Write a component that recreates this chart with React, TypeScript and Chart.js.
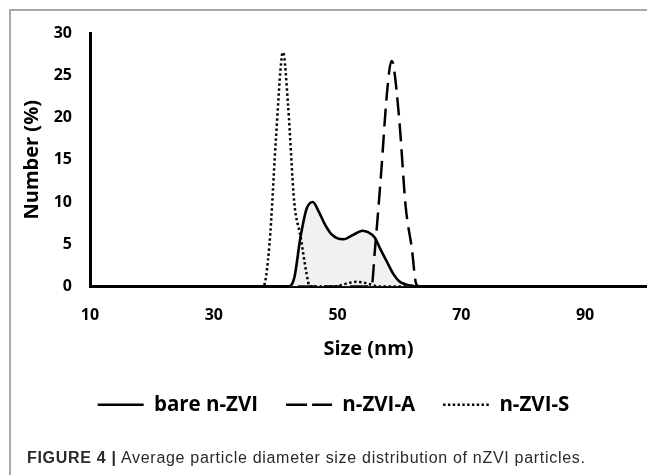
import React, { useEffect, useRef } from "react";
import { Chart, registerables } from "chart.js";

Chart.register(...registerables);

// ---- data ----
const xTickValues = [10, 30, 50, 70, 90];

const bareSizes = [10, 42, 43, 44, 45, 46, 47, 48, 49, 50, 51, 52, 53, 54, 55, 56, 57, 58, 59, 60, 61, 62, 63, 100];
const bareNumber = [0, 0, 1, 5.8, 9.2, 10, 8.8, 7.3, 6.2, 5.7, 5.6, 5.9, 6.3, 6.6, 6.4, 5.8, 4.3, 2.9, 1.5, 0.6, 0.25, 0.1, 0, 0];

const aSizes = [10, 55.5, 56, 57, 58, 58.7, 59, 60, 61, 62, 62.7, 63.2, 100];
const aNumber = [0, 0, 4, 13, 23, 26.7, 26.3, 19.5, 9.5, 4.5, 0.3, 0, 0];

const sSizes = [10, 38, 39, 40, 41, 41.2, 42, 43, 44, 45, 45.5, 49.5, 51, 52, 53, 54, 55, 56, 56.5, 100];
const sNumber = [0, 0, 5, 17, 27.3, 27.7, 21.5, 10, 6, 1.5, 0, 0, 0.25, 0.45, 0.55, 0.5, 0.3, 0.1, 0, 0];

const seriesLabels = ["bare n-ZVI", "n-ZVI-A", "n-ZVI-S"];

const FONT = "'Open Sans', Lato, sans-serif";

export default function App() {
  const ref = useRef<HTMLCanvasElement | null>(null);

  useEffect(() => {
    if (!ref.current) return;
    const toPts = (xs: number[], ys: number[]) => xs.map((x, i) => ({ x, y: ys[i] }));
    const legendDash: number[][] = [[], [21, 5], [2.4, 2.4]];
    const chart = new Chart(ref.current, {
      type: "line",
      data: {
        datasets: [
          {
            label: seriesLabels[0],
            data: toPts(bareSizes, bareNumber),
            borderColor: "#000",
            borderWidth: 2.6,
            backgroundColor: "#f1f1f1",
            fill: "origin",
            pointRadius: 0,
            cubicInterpolationMode: "monotone",
            order: 3,
          },
          {
            label: seriesLabels[1],
            data: toPts(aSizes, aNumber),
            borderColor: "#000",
            borderWidth: 2.5,
            borderDash: [18, 8],
            fill: false,
            pointRadius: 0,
            cubicInterpolationMode: "monotone",
            order: 2,
          },
          {
            label: seriesLabels[2],
            data: toPts(sSizes, sNumber),
            borderColor: "#000",
            borderWidth: 2.5,
            borderDash: [2.4, 2.6],
            fill: false,
            pointRadius: 0,
            cubicInterpolationMode: "monotone",
            order: 1,
          },
        ],
      },
      options: {
        responsive: false,
        animation: false,
        layout: { padding: { left: 20, top: 33, right: 0, bottom: 50 } },
        plugins: {
          tooltip: { enabled: false },
          legend: {
            position: "bottom",
            labels: {
              usePointStyle: true,
              pointStyleWidth: 46,
              padding: 28,
              color: "#000",
              font: { family: FONT, size: 20.5, weight: "bold" },
              generateLabels: (c: any) =>
                c.data.datasets.map((ds: any, i: number) => ({
                  text: ds.label,
                  fillStyle: "rgba(0,0,0,0)",
                  strokeStyle: "#000",
                  lineWidth: 2.6,
                  lineDash: legendDash[i],
                  lineCap: "butt",
                  pointStyle: "line",
                  hidden: false,
                  datasetIndex: i,
                  fontColor: "#000",
                })),
            },
          },
        },
        scales: {
          x: {
            type: "linear",
            min: 10,
            max: 100,
            afterBuildTicks: (s: any) => {
              s.ticks = xTickValues.map((v) => ({ value: v }));
            },
            afterFit: (s: any) => {
              s.height = 80;
            },
            grid: { display: false, drawTicks: false },
            border: { display: true, color: "#000", width: 3 },
            ticks: {
              color: "#000",
              padding: 19,
              maxRotation: 0,
              font: { family: FONT, size: 16, weight: "bold" },
            },
            title: {
              display: true,
              text: "Size (nm)",
              color: "#000",
              font: { family: FONT, size: 20, weight: "bold" },
              padding: { top: 0, bottom: 5 },
            },
          },
          y: {
            min: 0,
            max: 30,
            afterFit: (s: any) => {
              s.width = 70;
            },
            grid: { display: false, drawTicks: false },
            border: { display: true, color: "#000", width: 3 },
            ticks: {
              stepSize: 5,
              color: "#000",
              padding: 18,
              font: { family: FONT, size: 16, weight: "bold" },
            },
            title: {
              display: true,
              text: "Number (%)",
              color: "#000",
              font: { family: FONT, size: 20, weight: "bold" },
              padding: 0,
            },
          },
        },
      },
    });
    return () => chart.destroy();
  }, []);

  return (
    <div style={{ position: "absolute", left: 0, top: 0, width: 647, height: 475, overflow: "hidden", background: "#fff" }}>
      <div
        style={{
          position: "absolute",
          left: 9,
          top: 9,
          width: 647,
          height: 475,
          borderTop: "2px solid #a8a8a8",
          borderLeft: "2px solid #a8a8a8",
        }}
      />
      <canvas ref={ref} width={647} height={475} style={{ position: "absolute", left: 0, top: 0, width: 647, height: 475 }} />
      <div
        style={{
          position: "absolute",
          left: 27,
          top: 448,
          fontFamily: "'Liberation Sans', Arial, sans-serif",
          fontSize: 16,
          letterSpacing: "0.7px",
          color: "#2a2a2a",
          whiteSpace: "nowrap",
          lineHeight: "20px",
        }}
      >
        <b>FIGURE 4 |</b> Average particle diameter size distribution of nZVI particles.
      </div>
    </div>
  );
}
